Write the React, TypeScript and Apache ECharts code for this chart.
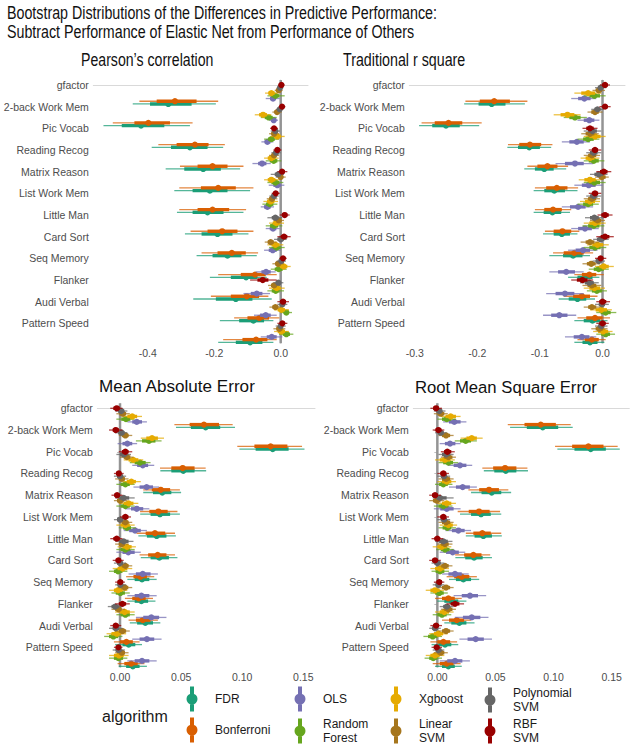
import React, { useEffect, useRef } from "react";
import * as echarts from "echarts";

const tasks = ["gfactor", "2-back Work Mem", "Pic Vocab", "Reading Recog", "Matrix Reason", "List Work Mem", "Little Man", "Card Sort", "Seq Memory", "Flanker", "Audi Verbal", "Pattern Speed"];
const algorithms = ["FDR", "Bonferroni", "OLS", "Random Forest", "Xgboost", "Linear SVM", "Polynomial SVM", "RBF SVM"];
const algorithmColors = ["#1B9E77", "#D95F02", "#7570B3", "#66A61E", "#E6AB02", "#A6761D", "#666666", "#990000"];
const legendLabels = ["FDR", "Bonferroni", "OLS", "Random\nForest", "Xgboost", "Linear\nSVM", "Polynomial\nSVM", "RBF\nSVM"];

const pearsonTicks = [-0.4, -0.2, 0];
const rsquareTicks = [-0.3, -0.2, -0.1, 0];
const maeTicks = [0, 0.05, 0.1, 0.15];
const rmseTicks = [0, 0.05, 0.1, 0.15];

// each row: [lo95, lo66, point, hi66, hi95], one row per task
const pearsonFDR = [[-0.445,-0.393,-0.338,-0.268,-0.195],[-0.533,-0.478,-0.42,-0.35,-0.273],[-0.388,-0.33,-0.273,-0.22,-0.173],[-0.346,-0.29,-0.233,-0.18,-0.122],[-0.32,-0.265,-0.213,-0.16,-0.092],[-0.312,-0.265,-0.22,-0.172,-0.112],[-0.288,-0.238,-0.19,-0.145,-0.097],[-0.253,-0.205,-0.16,-0.118,-0.072],[-0.213,-0.15,-0.104,-0.07,-0.042],[-0.263,-0.195,-0.135,-0.085,-0.027],[-0.183,-0.125,-0.082,-0.05,-0.022],[-0.188,-0.135,-0.092,-0.055,-0.022]];
const pearsonBonferroni = [[-0.425,-0.373,-0.318,-0.253,-0.188],[-0.505,-0.44,-0.398,-0.333,-0.265],[-0.368,-0.313,-0.258,-0.217,-0.168],[-0.303,-0.25,-0.205,-0.16,-0.112],[-0.305,-0.24,-0.188,-0.135,-0.082],[-0.305,-0.25,-0.205,-0.155,-0.104],[-0.271,-0.22,-0.176,-0.13,-0.082],[-0.238,-0.19,-0.147,-0.105,-0.068],[-0.188,-0.12,-0.077,-0.045,-0.012],[-0.21,-0.15,-0.102,-0.065,-0.037],[-0.14,-0.1,-0.064,-0.035,-0.004],[-0.173,-0.115,-0.074,-0.04,-0.012]];
const pearsonOLS = [[-0.045,-0.032,-0.023,-0.014,-0.003],[-0.035,-0.028,-0.021,-0.014,-0.008],[-0.058,-0.048,-0.04,-0.031,-0.022],[-0.085,-0.068,-0.056,-0.043,-0.03],[-0.036,-0.022,-0.01,0.0,0.011],[-0.06,-0.05,-0.04,-0.03,-0.02],[-0.045,-0.033,-0.023,-0.013,-0.003],[-0.05,-0.036,-0.024,-0.012,0.0],[-0.075,-0.058,-0.044,-0.03,-0.015],[-0.112,-0.09,-0.072,-0.055,-0.032],[-0.08,-0.062,-0.045,-0.03,-0.012],[-0.06,-0.042,-0.027,-0.012,0.005]];
const pearsonRandomForest = [[-0.04,-0.028,-0.016,-0.004,0.012],[-0.06,-0.048,-0.036,-0.024,-0.012],[-0.05,-0.038,-0.028,-0.018,-0.005],[-0.045,-0.033,-0.021,-0.01,0.002],[-0.04,-0.028,-0.016,-0.004,0.008],[-0.055,-0.044,-0.033,-0.022,-0.01],[-0.045,-0.032,-0.02,-0.008,0.005],[-0.035,-0.024,-0.012,0.0,0.012],[-0.03,-0.018,-0.006,0.006,0.018],[-0.04,-0.027,-0.015,-0.003,0.01],[0.0,0.009,0.017,0.025,0.034],[-0.005,0.006,0.017,0.028,0.038]];
const pearsonXgboost = [[-0.047,-0.037,-0.028,-0.018,-0.008],[-0.078,-0.065,-0.053,-0.041,-0.028],[-0.03,-0.02,-0.01,0.001,0.012],[-0.05,-0.039,-0.028,-0.017,-0.006],[-0.05,-0.039,-0.028,-0.016,-0.005],[-0.052,-0.041,-0.03,-0.019,-0.008],[-0.035,-0.024,-0.013,-0.002,0.01],[-0.04,-0.028,-0.016,-0.004,0.008],[-0.012,-0.002,0.009,0.02,0.03],[-0.035,-0.023,-0.012,0.0,0.012],[-0.02,-0.009,0.002,0.013,0.025],[-0.02,-0.009,0.002,0.013,0.025]];
const pearsonLinearSVM = [[-0.018,-0.012,-0.006,0.0,0.006],[-0.025,-0.018,-0.011,-0.004,0.003],[-0.035,-0.027,-0.02,-0.013,-0.005],[-0.035,-0.027,-0.02,-0.013,-0.005],[-0.015,-0.007,0.0,0.007,0.015],[-0.042,-0.034,-0.026,-0.018,-0.01],[-0.022,-0.014,-0.006,0.002,0.01],[-0.048,-0.039,-0.03,-0.021,-0.012],[-0.025,-0.016,-0.008,0.001,0.01],[-0.038,-0.029,-0.02,-0.011,-0.002],[-0.034,-0.025,-0.016,-0.007,0.002],[-0.022,-0.013,-0.004,0.005,0.014]];
const pearsonPolySVM = [[-0.012,-0.007,-0.002,0.003,0.008],[-0.014,-0.008,-0.003,0.002,0.008],[-0.03,-0.023,-0.016,-0.009,-0.002],[-0.028,-0.021,-0.014,-0.007,0.0],[-0.03,-0.018,-0.008,0.001,0.01],[-0.034,-0.027,-0.02,-0.013,-0.006],[-0.04,-0.027,-0.016,-0.006,0.005],[-0.02,-0.01,0.0,0.009,0.018],[-0.012,-0.005,0.002,0.009,0.016],[-0.022,-0.014,-0.007,0.0,0.008],[-0.01,-0.002,0.005,0.012,0.02],[-0.015,-0.007,0.0,0.007,0.015]];
const pearsonRBFSVM = [[-0.008,-0.003,0.002,0.007,0.012],[-0.006,-0.001,0.004,0.009,0.014],[-0.032,-0.026,-0.02,-0.014,-0.008],[-0.022,-0.016,-0.01,-0.004,0.002],[-0.01,-0.003,0.004,0.012,0.02],[-0.027,-0.021,-0.015,-0.009,-0.003],[-0.003,0.005,0.012,0.02,0.027],[-0.01,0.0,0.01,0.02,0.03],[-0.004,0.001,0.007,0.012,0.018],[-0.092,-0.07,-0.054,-0.037,-0.012],[-0.01,-0.002,0.007,0.016,0.025],[-0.01,-0.003,0.005,0.012,0.02]];

const rsquareFDR = [[-0.221,-0.198,-0.177,-0.155,-0.124],[-0.293,-0.272,-0.25,-0.228,-0.197],[-0.152,-0.135,-0.117,-0.1,-0.082],[-0.125,-0.108,-0.093,-0.078,-0.058],[-0.11,-0.093,-0.077,-0.06,-0.04],[-0.11,-0.094,-0.08,-0.066,-0.052],[-0.095,-0.078,-0.065,-0.052,-0.04],[-0.085,-0.063,-0.047,-0.032,-0.02],[-0.055,-0.04,-0.028,-0.016,-0.005],[-0.07,-0.054,-0.04,-0.026,-0.012],[-0.045,-0.03,-0.016,-0.004,0.008],[-0.045,-0.032,-0.02,-0.008,0.003]];
const rsquareBonferroni = [[-0.219,-0.196,-0.173,-0.148,-0.12],[-0.289,-0.268,-0.246,-0.224,-0.193],[-0.151,-0.133,-0.116,-0.098,-0.08],[-0.12,-0.104,-0.088,-0.072,-0.055],[-0.108,-0.09,-0.073,-0.056,-0.039],[-0.108,-0.093,-0.079,-0.065,-0.05],[-0.092,-0.078,-0.064,-0.05,-0.037],[-0.079,-0.062,-0.045,-0.03,-0.015],[-0.045,-0.033,-0.021,-0.01,0.002],[-0.062,-0.047,-0.033,-0.02,-0.008],[-0.04,-0.026,-0.012,0.0,0.012],[-0.04,-0.028,-0.017,-0.006,0.005]];
const rsquareOLS = [[-0.05,-0.039,-0.029,-0.019,-0.01],[-0.04,-0.03,-0.021,-0.013,-0.005],[-0.065,-0.053,-0.041,-0.03,-0.02],[-0.075,-0.06,-0.044,-0.03,-0.015],[-0.045,-0.033,-0.022,-0.011,0.0],[-0.065,-0.052,-0.039,-0.027,-0.015],[-0.05,-0.039,-0.028,-0.017,-0.006],[-0.055,-0.043,-0.031,-0.02,-0.008],[-0.085,-0.071,-0.058,-0.044,-0.03],[-0.09,-0.075,-0.06,-0.045,-0.03],[-0.095,-0.082,-0.069,-0.056,-0.042],[-0.06,-0.046,-0.033,-0.021,-0.01]];
const rsquareRandomForest = [[-0.03,-0.021,-0.013,-0.004,0.005],[-0.062,-0.053,-0.044,-0.035,-0.025],[-0.04,-0.031,-0.023,-0.014,-0.005],[-0.03,-0.022,-0.014,-0.006,0.003],[-0.03,-0.021,-0.013,-0.004,0.005],[-0.04,-0.031,-0.023,-0.015,-0.006],[-0.032,-0.023,-0.014,-0.005,0.003],[-0.03,-0.021,-0.012,-0.003,0.006],[-0.022,-0.014,-0.006,0.002,0.01],[-0.025,-0.017,-0.009,-0.001,0.007],[-0.01,-0.003,0.005,0.013,0.022],[-0.01,-0.002,0.005,0.012,0.02]];
const rsquareXgboost = [[-0.045,-0.034,-0.023,-0.012,-0.002],[-0.078,-0.067,-0.056,-0.045,-0.035],[-0.03,-0.021,-0.012,-0.003,0.005],[-0.035,-0.027,-0.02,-0.013,-0.005],[-0.038,-0.029,-0.02,-0.011,-0.003],[-0.036,-0.028,-0.02,-0.012,-0.004],[-0.03,-0.021,-0.012,-0.003,0.005],[-0.025,-0.016,-0.008,0.001,0.01],[-0.012,-0.005,0.002,0.01,0.018],[-0.03,-0.021,-0.013,-0.004,0.004],[-0.02,-0.011,-0.002,0.007,0.015],[-0.015,-0.007,0.001,0.009,0.016]];
const rsquareLinearSVM = [[-0.016,-0.011,-0.006,-0.001,0.004],[-0.024,-0.018,-0.012,-0.006,0.0],[-0.034,-0.027,-0.02,-0.013,-0.006],[-0.03,-0.023,-0.017,-0.01,-0.004],[-0.012,-0.006,-0.001,0.005,0.01],[-0.03,-0.023,-0.017,-0.01,-0.004],[-0.02,-0.014,-0.008,-0.002,0.004],[-0.035,-0.027,-0.02,-0.013,-0.006],[-0.032,-0.025,-0.018,-0.011,-0.004],[-0.032,-0.024,-0.017,-0.01,-0.002],[-0.03,-0.023,-0.017,-0.01,-0.004],[-0.018,-0.011,-0.005,0.001,0.008]];
const rsquarePolySVM = [[-0.012,-0.007,-0.003,0.001,0.006],[-0.018,-0.013,-0.008,-0.003,0.002],[-0.03,-0.023,-0.016,-0.009,-0.002],[-0.026,-0.02,-0.014,-0.008,-0.002],[-0.02,-0.013,-0.006,0.001,0.008],[-0.026,-0.02,-0.014,-0.008,-0.002],[-0.028,-0.02,-0.013,-0.006,0.002],[-0.015,-0.009,-0.003,0.003,0.01],[-0.016,-0.011,-0.006,-0.001,0.004],[-0.036,-0.028,-0.021,-0.014,-0.006],[-0.012,-0.006,-0.001,0.004,0.01],[-0.012,-0.007,-0.002,0.003,0.008]];
const rsquareRBFSVM = [[-0.004,0.0,0.004,0.008,0.012],[-0.005,0.0,0.004,0.008,0.013],[-0.032,-0.026,-0.02,-0.014,-0.008],[-0.022,-0.017,-0.012,-0.007,-0.002],[-0.01,-0.004,0.002,0.008,0.014],[-0.022,-0.017,-0.012,-0.007,-0.002],[-0.008,-0.002,0.004,0.01,0.016],[-0.01,-0.003,0.004,0.011,0.018],[-0.012,-0.007,-0.003,0.001,0.006],[-0.05,-0.041,-0.032,-0.024,-0.015],[-0.01,-0.005,0.0,0.006,0.012],[-0.01,-0.005,0.0,0.005,0.01]];

const maeFDR = [[0.0458,0.058,0.0701,0.082,0.0941],[0.0977,0.111,0.125,0.138,0.151],[0.033,0.042,0.0518,0.061,0.0705],[0.019,0.027,0.0346,0.042,0.05],[0.0165,0.025,0.0327,0.041,0.049],[0.015,0.022,0.03,0.038,0.0457],[0.017,0.025,0.0322,0.04,0.047],[0.006,0.012,0.018,0.024,0.03],[0.006,0.012,0.0175,0.023,0.029],[0.008,0.014,0.0207,0.027,0.033],[-0.004,0.002,0.0071,0.0125,0.018],[-0.001,0.005,0.0105,0.016,0.022]];
const maeBonferroni = [[0.0445,0.057,0.0687,0.081,0.0922],[0.096,0.11,0.1233,0.137,0.149],[0.0327,0.042,0.0513,0.061,0.0701],[0.019,0.026,0.0333,0.041,0.049],[0.0164,0.024,0.0314,0.039,0.047],[0.0135,0.021,0.0286,0.037,0.045],[0.016,0.023,0.0308,0.038,0.045],[0.005,0.011,0.0166,0.022,0.028],[0.004,0.01,0.0153,0.021,0.027],[0.007,0.013,0.0186,0.025,0.031],[-0.005,0.0,0.0052,0.0105,0.016],[-0.002,0.0035,0.0092,0.0145,0.02]];
const maeOLS = [[0.006,0.01,0.0137,0.018,0.022],[-0.002,0.002,0.006,0.01,0.014],[0.01,0.014,0.0186,0.023,0.028],[0.011,0.016,0.0218,0.027,0.032],[0.004,0.009,0.0137,0.019,0.024],[0.003,0.0075,0.0123,0.017,0.022],[-0.003,0.002,0.0068,0.012,0.017],[0.007,0.013,0.0186,0.025,0.031],[0.006,0.012,0.0175,0.024,0.03],[0.013,0.019,0.0256,0.032,0.038],[0.01,0.016,0.022,0.028,0.034],[0.006,0.012,0.018,0.024,0.03]];
const maeRandomForest = [[-0.003,0.001,0.0049,0.0085,0.012],[0.013,0.018,0.0237,0.029,0.034],[0.008,0.012,0.0164,0.021,0.025],[-0.003,0.0005,0.0044,0.008,0.012],[-0.003,0.0005,0.0044,0.008,0.012],[-0.001,0.0025,0.0057,0.009,0.013],[-0.003,0.0005,0.0044,0.008,0.012],[-0.009,-0.005,-0.0016,0.002,0.006],[-0.007,-0.0035,0.0003,0.004,0.008],[-0.003,0.0005,0.0044,0.008,0.012],[-0.013,-0.009,-0.0054,-0.0015,0.002],[-0.009,-0.005,-0.0013,0.0025,0.006]];
const maeXgboost = [[0.002,0.006,0.01,0.014,0.018],[0.017,0.0215,0.0262,0.031,0.036],[0.003,0.007,0.0109,0.015,0.019],[0.002,0.0055,0.0093,0.013,0.017],[-0.001,0.003,0.007,0.011,0.015],[-0.003,0.0005,0.0044,0.008,0.012],[-0.002,0.002,0.0057,0.0095,0.013],[-0.006,-0.002,0.0022,0.006,0.01],[-0.009,-0.005,-0.0016,0.002,0.006],[-0.004,0.0,0.0038,0.008,0.012],[-0.011,-0.007,-0.0027,0.001,0.005],[-0.009,-0.005,-0.0008,0.003,0.007]];
const maeLinearSVM = [[-0.003,-0.0005,0.0022,0.005,0.008],[-0.001,0.0015,0.0044,0.007,0.01],[0.0,0.003,0.0057,0.0085,0.011],[-0.004,-0.001,0.0015,0.004,0.007],[-0.005,-0.0025,0.0003,0.003,0.006],[-0.001,0.0015,0.0044,0.007,0.01],[-0.004,-0.001,0.0015,0.004,0.007],[-0.001,0.0015,0.0044,0.007,0.01],[-0.002,0.001,0.0038,0.0068,0.01],[-0.007,-0.004,-0.0013,0.0013,0.004],[-0.004,-0.001,0.002,0.005,0.008],[-0.004,-0.001,0.0015,0.004,0.007]];
const maePolySVM = [[-0.004,-0.0015,0.001,0.0035,0.006],[-0.004,-0.0015,0.0013,0.0037,0.006],[-0.003,0.0,0.003,0.006,0.009],[-0.005,-0.0025,0.0,0.0025,0.005],[-0.004,-0.0005,0.003,0.0075,0.012],[-0.005,-0.0025,0.0,0.0025,0.005],[-0.004,-0.0005,0.003,0.007,0.011],[-0.005,-0.0025,0.0,0.0025,0.005],[-0.004,-0.002,0.0003,0.0025,0.005],[-0.01,-0.007,-0.004,-0.001,0.002],[-0.009,-0.006,-0.0035,-0.0008,0.002],[-0.006,-0.0035,-0.0013,0.0013,0.004]];
const maeRBFSVM = [[-0.008,-0.0055,-0.0027,-0.0003,0.002],[-0.009,-0.006,-0.0035,-0.0008,0.002],[-0.001,0.0015,0.0044,0.007,0.01],[-0.005,-0.003,-0.001,0.001,0.003],[-0.007,-0.0045,-0.0024,-0.0002,0.002],[0.0,0.002,0.0044,0.0068,0.009],[-0.008,-0.0055,-0.0027,-0.0003,0.002],[-0.006,-0.0035,-0.0013,0.0008,0.003],[-0.004,-0.002,0.0003,0.002,0.004],[-0.004,-0.001,0.002,0.005,0.008],[-0.008,-0.0058,-0.0035,-0.0012,0.001],[-0.005,-0.003,-0.0013,0.0003,0.002]];

const rmseFDR = [[0.0626,0.077,0.0907,0.104,0.1165],[0.1033,0.118,0.132,0.145,0.157],[0.04,0.049,0.0589,0.068,0.078],[0.029,0.038,0.0468,0.055,0.0635],[0.0195,0.029,0.0376,0.046,0.055],[0.0245,0.032,0.0396,0.047,0.0555],[0.0155,0.024,0.0316,0.039,0.047],[0.01,0.016,0.0224,0.029,0.036],[0.0,0.006,0.0124,0.018,0.025],[0.006,0.012,0.0189,0.025,0.032],[-0.005,0.001,0.0066,0.012,0.018],[-0.002,0.004,0.0095,0.015,0.021]];
const rmseBonferroni = [[0.0606,0.075,0.089,0.102,0.1148],[0.1013,0.116,0.13,0.143,0.1552],[0.0387,0.048,0.0583,0.068,0.0775],[0.0267,0.036,0.0445,0.053,0.0611],[0.0175,0.027,0.0359,0.045,0.054],[0.0245,0.031,0.0387,0.046,0.055],[0.0153,0.023,0.031,0.038,0.0455],[0.008,0.0145,0.021,0.0275,0.034],[-0.002,0.004,0.0095,0.015,0.021],[0.004,0.01,0.0167,0.023,0.029],[-0.006,0.0,0.0052,0.011,0.017],[-0.004,0.002,0.0081,0.014,0.02]];
const rmseOLS = [[0.005,0.01,0.0146,0.02,0.025],[0.002,0.0065,0.0109,0.0155,0.02],[0.009,0.014,0.0195,0.025,0.03],[0.01,0.016,0.0218,0.028,0.034],[-0.003,0.0025,0.0081,0.014,0.02],[0.007,0.0125,0.0181,0.0235,0.029],[0.002,0.0075,0.0132,0.0185,0.024],[0.004,0.0095,0.0152,0.021,0.027],[0.014,0.021,0.0281,0.035,0.042],[0.015,0.022,0.0296,0.037,0.044],[0.019,0.026,0.033,0.04,0.047],[0.002,0.0085,0.0152,0.0215,0.028]];
const rmseRandomForest = [[0.0,0.004,0.0081,0.012,0.016],[0.015,0.0195,0.0244,0.029,0.034],[0.001,0.005,0.0095,0.0135,0.018],[-0.002,0.0015,0.0052,0.009,0.013],[-0.003,0.001,0.0052,0.009,0.013],[0.001,0.0045,0.0086,0.012,0.016],[-0.001,0.003,0.0066,0.0105,0.014],[-0.005,-0.0015,0.0023,0.006,0.01],[-0.006,-0.002,0.0017,0.0055,0.009],[-0.004,0.0,0.004,0.008,0.012],[-0.012,-0.008,-0.004,0.0,0.004],[-0.011,-0.007,-0.0035,0.0,0.004]];
const rmseXgboost = [[0.003,0.007,0.0115,0.016,0.02],[0.02,0.025,0.0296,0.034,0.039],[-0.002,0.002,0.0066,0.011,0.015],[0.0,0.004,0.0081,0.012,0.016],[0.0,0.004,0.0081,0.012,0.016],[0.002,0.0058,0.0095,0.0133,0.017],[-0.004,0.0,0.0037,0.008,0.012],[-0.006,-0.002,0.0023,0.006,0.01],[-0.01,-0.006,-0.002,0.002,0.006],[-0.002,0.002,0.006,0.01,0.014],[-0.007,-0.003,0.0009,0.005,0.009],[-0.01,-0.006,-0.002,0.002,0.006]];
const rmseLinearSVM = [[-0.003,0.0,0.0029,0.006,0.009],[0.001,0.004,0.0075,0.011,0.014],[0.003,0.006,0.0095,0.013,0.016],[0.001,0.004,0.0075,0.011,0.014],[-0.007,-0.0038,-0.0006,0.0027,0.006],[0.001,0.004,0.0075,0.011,0.014],[0.0,0.0033,0.0066,0.0098,0.013],[0.0,0.0033,0.0066,0.0098,0.013],[0.001,0.004,0.0075,0.011,0.014],[0.003,0.006,0.0095,0.013,0.016],[0.001,0.004,0.0075,0.011,0.014],[-0.003,0.0,0.0029,0.006,0.009]];
const rmsePolySVM = [[-0.003,-0.0007,0.0017,0.0043,0.007],[-0.002,0.0005,0.0029,0.0055,0.008],[0.001,0.004,0.0075,0.011,0.014],[0.0,0.003,0.0057,0.0083,0.011],[-0.004,-0.0008,0.0023,0.008,0.014],[0.0,0.003,0.0057,0.0083,0.011],[-0.002,0.0015,0.0052,0.009,0.013],[-0.005,-0.0025,0.0,0.003,0.006],[-0.004,-0.0015,0.0009,0.0035,0.006],[0.002,0.005,0.0081,0.011,0.014],[-0.007,-0.0045,-0.002,0.0005,0.003],[-0.004,-0.0015,0.0009,0.0035,0.006]];
const rmseRBFSVM = [[-0.006,-0.0035,-0.0011,0.0015,0.004],[-0.004,-0.0015,0.0009,0.0035,0.006],[0.003,0.0058,0.0086,0.012,0.015],[0.0,0.0026,0.0052,0.0076,0.01],[-0.007,-0.0045,-0.002,0.0005,0.003],[0.0,0.0026,0.0052,0.0076,0.01],[-0.005,-0.0025,0.0,0.0025,0.005],[-0.007,-0.0045,-0.002,0.0005,0.003],[-0.003,-0.0007,0.0017,0.004,0.006],[0.008,0.0115,0.0152,0.019,0.023],[-0.006,-0.0035,-0.0011,0.0015,0.004],[-0.005,-0.003,-0.0006,0.0017,0.004]];

const pearsonSeries = [pearsonFDR, pearsonBonferroni, pearsonOLS, pearsonRandomForest, pearsonXgboost, pearsonLinearSVM, pearsonPolySVM, pearsonRBFSVM];
const rsquareSeries = [rsquareFDR, rsquareBonferroni, rsquareOLS, rsquareRandomForest, rsquareXgboost, rsquareLinearSVM, rsquarePolySVM, rsquareRBFSVM];
const maeSeries = [maeFDR, maeBonferroni, maeOLS, maeRandomForest, maeXgboost, maeLinearSVM, maePolySVM, maeRBFSVM];
const rmseSeries = [rmseFDR, rmseBonferroni, rmseOLS, rmseRandomForest, rmseXgboost, rmseLinearSVM, rmsePolySVM, rmseRBFSVM];

const Y_MIN = -0.23;
const Y_MAX = 11.92;
const DODGE = 0.125;
const SANS = "'Liberation Sans', Arial, sans-serif";
const LABEL_COLOR = "#4d4d4d";
const TITLE_COLOR = "#111111";

const panels = [
  { title: "Pearson\u2019s correlation", data: pearsonSeries, ticks: pearsonTicks, decimals: 1, xMin: -0.5636, xMax: 0.0821, grid: { left: 93.3, top: 80, width: 214.7, height: 263.3 }, tx: 81, ty: 60, tsize: 17.5, tscale: 0.808, yTicks: false },
  { title: "Traditional r square", data: rsquareSeries, ticks: rsquareTicks, decimals: 1, xMin: -0.3086, xMax: 0.0359, grid: { left: 409.3, top: 80, width: 215.7, height: 263.3 }, tx: 343, ty: 60, tsize: 17.5, tscale: 0.815, yTicks: false },
  { title: "Mean Absolute Error", data: maeSeries, ticks: maeTicks, decimals: 2, xMin: -0.0186, xMax: 0.1596, grid: { left: 97.3, top: 403.3, width: 217.7, height: 264 }, tx: 99, ty: 386.7, tsize: 17.1, tscale: 1, yTicks: true },
  { title: "Root Mean Square Error", data: rmseSeries, ticks: rmseTicks, decimals: 2, xMin: -0.0207, xMax: 0.1652, grid: { left: 413.3, top: 403.3, width: 216, height: 264 }, tx: 415, ty: 387.7, tsize: 16.7, tscale: 1, yTicks: true },
];

const legendIcon = "path://M3.5,0H7.5V25H3.5Z M0,12.5A5.5,5.5,0,1,1,11,12.5A5.5,5.5,0,1,1,0,12.5Z";

function renderItem(params: any, api: any) {
  const color = api.visual("color");
  const y = api.value(5);
  const lo95 = api.coord([api.value(0), y]);
  const lo66 = api.coord([api.value(1), y]);
  const mid = api.coord([api.value(2), y]);
  const hi66 = api.coord([api.value(3), y]);
  const hi95 = api.coord([api.value(4), y]);
  return {
    type: "group",
    children: [
      { type: "line", shape: { x1: lo95[0], y1: mid[1], x2: hi95[0], y2: mid[1] }, style: { stroke: color, lineWidth: 1.3, opacity: 0.75 } },
      { type: "line", shape: { x1: lo66[0], y1: mid[1], x2: hi66[0], y2: mid[1] }, style: { stroke: color, lineWidth: 3.4 } },
      { type: "circle", shape: { cx: mid[0], cy: mid[1], r: 3.1 }, style: { fill: color } },
    ],
  };
}

function headText(text: string, x: number, y: number, size: number, scale: number) {
  return {
    type: "text", x, y, scaleX: scale, scaleY: 1, silent: true,
    style: { text, fontFamily: SANS, fontSize: size, fill: TITLE_COLOR, align: "left", verticalAlign: "middle", textVerticalAlign: "middle" },
  };
}

export default function App() {
  const ref = useRef<HTMLDivElement>(null);
  useEffect(() => {
    const chart = echarts.init(ref.current!, null, { renderer: "svg" });
    const grid: any[] = [];
    const xAxis: any[] = [];
    const yAxis: any[] = [];
    const series: any[] = [];
    const graphic: any[] = [
      headText("Bootstrap Distributions of the Differences in Predictive Performance:", 7, 13, 17.5, 0.815),
      headText("Subtract Performance of Elastic Net from Performance of Others", 7, 32, 17.5, 0.815),
    ];
    const title: any[] = [
      { text: "algorithm", left: 102, top: 706, padding: 0, textStyle: { fontFamily: SANS, fontSize: 16, fontWeight: "normal", color: "#1a1a1a", lineHeight: 20 } },
    ];
    const taskIndex = tasks.map((_, i) => i);
    panels.forEach((p, g) => {
      grid.push({ ...p.grid, outerBoundsMode: "none", containLabel: false });
      if (p.tscale === 1) {
        title.push({ text: p.title, left: p.tx, top: p.ty - 10, padding: 0, textStyle: { fontFamily: SANS, fontSize: p.tsize, fontWeight: "normal", color: TITLE_COLOR, lineHeight: 20 } });
      } else {
        graphic.push(headText(p.title, p.tx, p.ty, p.tsize, p.tscale));
      }
      xAxis.push({
        gridIndex: g, type: "value", min: p.xMin, max: p.xMax,
        axisLine: { show: true, lineStyle: { color: "#d9d9d9", width: 1 } },
        axisTick: { show: false }, splitLine: { show: false },
        axisLabel: { customValues: p.ticks, formatter: (v: number) => v.toFixed(p.decimals), color: LABEL_COLOR, fontFamily: SANS, fontSize: 10.5, margin: 4 },
      });
      yAxis.push({
        gridIndex: g, type: "value", inverse: true, min: Y_MIN, max: Y_MAX,
        axisLine: { show: true, lineStyle: { color: "#d9d9d9", width: 1 } },
        axisTick: p.yTicks ? { show: true, customValues: taskIndex, length: 3, lineStyle: { color: "#bdbdbd", width: 1 } } : { show: false },
        splitLine: { show: false },
        axisLabel: { customValues: taskIndex, formatter: (v: number) => tasks[Math.round(v)] ?? "", color: LABEL_COLOR, fontFamily: SANS, fontSize: 10.5, margin: 4.5 },
      });
      series.push({
        type: "line", xAxisIndex: g, yAxisIndex: g, silent: true, symbol: "none", z: 1,
        data: [[0, Y_MIN], [0, Y_MAX]], lineStyle: { color: "#949494", width: 2.5 },
      });
      p.data.forEach((rows, a) => {
        series.push({
          type: "custom", name: algorithms[a], xAxisIndex: g, yAxisIndex: g, z: 2,
          itemStyle: { color: algorithmColors[a] },
          encode: { x: [0, 1, 2, 3, 4], y: 5 },
          data: rows.map((r, i) => [...r, i + (7 - a) * DODGE]),
          renderItem,
        });
      });
    });
    const cols = [[0, 1], [2, 3], [4, 5], [6, 7]];
    const colLeft = [186.5, 294.5, 390.5, 484.5];
    const legend = cols.map((c, ci) => ({
      orient: "vertical", left: colLeft[ci], top: 686.5, padding: 0,
      itemWidth: 36, itemHeight: 25, itemGap: ci === 3 ? 4 : 6, selectedMode: false,
      data: c.map((a) => ({ name: algorithms[a], icon: legendIcon })),
      formatter: (name: string) => legendLabels[algorithms.indexOf(name)],
      textStyle: { fontFamily: SANS, fontSize: 12, color: "#1a1a1a", lineHeight: 13.5 },
    }));
    chart.setOption({ animation: false, backgroundColor: "#ffffff", title, graphic, grid, xAxis, yAxis, series, legend });
    return () => chart.dispose();
  }, []);
  return <div ref={ref} style={{ position: "absolute", left: 0, top: 0, width: 630, height: 749 }} />;
}
